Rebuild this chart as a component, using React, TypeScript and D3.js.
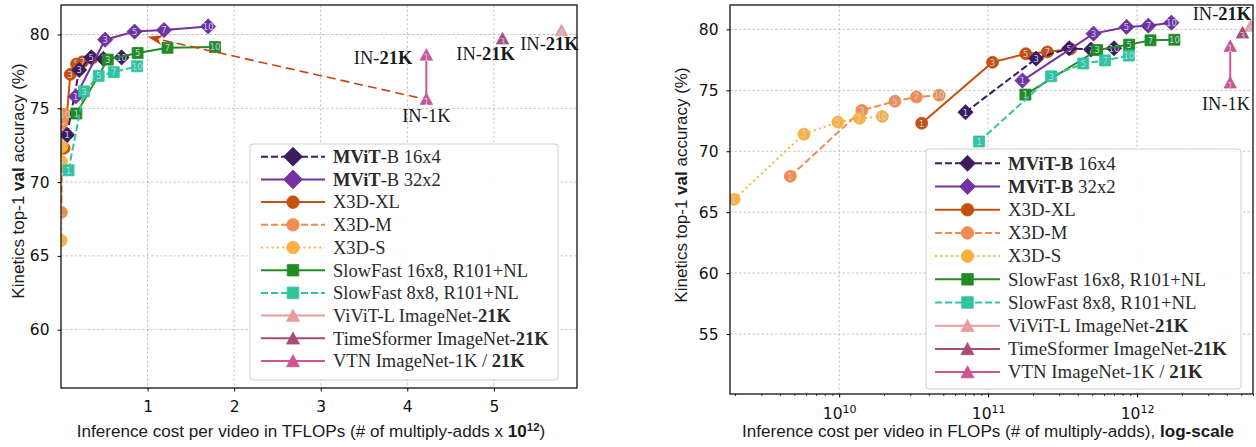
import React, { useEffect, useRef } from 'react';
import * as d3 from 'd3';

// number of views (clips) printed inside each marker
const VIEWS = ['1', '3', '5', '7', '10'];

// inference cost in TFLOPs (x 10^12 multiply-adds) and Kinetics top-1 val accuracy (%)
const mvit16x4Cost = [0.0705, 0.21, 0.35, 0.49, 0.7];
const mvit16x4Acc = [73.2, 77.6, 78.45, 78.35, 78.45];
const mvit32x2Cost = [0.17, 0.51, 0.85, 1.19, 1.7];
const mvit32x2Acc = [75.8, 79.65, 80.2, 80.3, 80.55];
const x3dXLCost = [0.0358, 0.107, 0.179, 0.25, 0.358];
const x3dXLAcc = [72.3, 77.3, 78.0, 78.15, 78.4];
const x3dMCost = [0.0047, 0.0142, 0.0237, 0.033, 0.047];
const x3dMAcc = [67.95, 73.35, 74.1, 74.45, 74.6];
const x3dSCost = [0.00197, 0.0058, 0.0098, 0.0137, 0.0195];
const x3dSAcc = [66.05, 71.4, 72.4, 72.7, 72.85];
const sf16x8Cost = [0.178, 0.54, 0.885, 1.23, 1.78];
const sf16x8Acc = [74.65, 78.3, 78.75, 79.1, 79.15];
const sf8x8Cost = [0.087, 0.265, 0.435, 0.61, 0.88];
const sf8x8Acc = [70.8, 76.15, 77.2, 77.45, 77.85];
const vivitCost = [5.78];
const vivitAcc = [80.25];
const vivitViews = ['4'];
const timesformerCost = [5.1];
const timesformerAcc = [79.7];
const timesformerViews = ['3'];
const vtnCost = [4.22, 4.22];
const vtnAcc = [75.6, 78.6];
const vtnViews = ['1', '1'];

// dashed arrow in the linear plot: from VTN IN-1K to MViT-B 32x2 level
const arrowTip = [1.0, 79.85];

const leftXTicks = [1, 2, 3, 4, 5];
const leftYTicks = [60, 65, 70, 75, 80];
const rightXTicks = [1e10, 1e11, 1e12];
const rightYTicks = [55, 60, 65, 70, 75, 80];

const legendLeft = [
  '**MViT**-B 16x4',
  '**MViT**-B 32x2',
  'X3D-XL',
  'X3D-M',
  'X3D-S',
  'SlowFast 16x8, R101+NL',
  'SlowFast 8x8, R101+NL',
  'ViViT-L ImageNet-**21K**',
  'TimeSformer ImageNet-**21K**',
  'VTN ImageNet-1K / **21K**',
];
const legendRight = legendLeft.map((s, i) => (i < 2 ? s.replace('**MViT**-B', '**MViT-B**') : s));

type Marker = 'diamond' | 'circle' | 'square' | 'triangle';
interface Series {
  cost: number[];
  acc: number[];
  views: string[];
  color: string;
  dash: string | null;
  marker: Marker;
}

// legend order
const SERIES: Series[] = [
  { cost: mvit16x4Cost, acc: mvit16x4Acc, views: VIEWS, color: '#3e1a5e', dash: '7,3', marker: 'diamond' },
  { cost: mvit32x2Cost, acc: mvit32x2Acc, views: VIEWS, color: '#7431a0', dash: null, marker: 'diamond' },
  { cost: x3dXLCost, acc: x3dXLAcc, views: VIEWS, color: '#c5500f', dash: null, marker: 'circle' },
  { cost: x3dMCost, acc: x3dMAcc, views: VIEWS, color: '#f08c52', dash: '7,3', marker: 'circle' },
  { cost: x3dSCost, acc: x3dSAcc, views: VIEWS, color: '#fbb040', dash: '2,3.3', marker: 'circle' },
  { cost: sf16x8Cost, acc: sf16x8Acc, views: VIEWS, color: '#238b23', dash: null, marker: 'square' },
  { cost: sf8x8Cost, acc: sf8x8Acc, views: VIEWS, color: '#30c49f', dash: '7,3', marker: 'square' },
  { cost: vivitCost, acc: vivitAcc, views: vivitViews, color: '#e89c9c', dash: null, marker: 'triangle' },
  { cost: timesformerCost, acc: timesformerAcc, views: timesformerViews, color: '#a84b7b', dash: null, marker: 'triangle' },
  { cost: vtnCost, acc: vtnAcc, views: vtnViews, color: '#cd5690', dash: null, marker: 'triangle' },
];
const DRAW_ORDER = [2, 3, 4, 0, 1, 5, 6, 7, 8, 9];

const SERIF = '"Liberation Serif", "Times New Roman", serif';
const SANS = '"Liberation Sans", Arial, sans-serif';
const TICK_FONT = '"DejaVu Sans", sans-serif';

const markerPath = (m: Marker, s = 1) => {
  if (m === 'diamond') {
    const r = 7.6 * s;
    return `M0,${-r}L${r},0L0,${r}L${-r},0Z`;
  }
  if (m === 'square') {
    const h = 5.5 * s;
    return `M${-h},${-h}H${h}V${h}H${-h}Z`;
  }
  if (m === 'triangle') {
    const w = 6.2 * s;
    return `M0,${-6.5 * s}L${w},${5 * s}L${-w},${5 * s}Z`;
  }
  return d3.symbol(d3.symbolCircle, Math.PI * 36 * s * s)()!;
};

// "a **b** c" -> tspans with bold parts
const richText = (sel: d3.Selection<SVGTextElement, unknown, null, undefined>, s: string) => {
  s.split('**').forEach((part, i) => {
    if (!part) return;
    sel.append('tspan').attr('font-weight', i % 2 ? 'bold' : null).text(part);
  });
};

interface Panel {
  id: string;
  x: d3.ScaleContinuousNumeric<number, number>;
  y: d3.ScaleLinear<number, number>;
  toX: (tflops: number) => number;
  legend: string[];
  legendBox: { x: number; y: number; w: number; h: number; row0: number; step: number; h0: number; h1: number; tx: number; size: number; dscale: number };
}

const App: React.FC = () => {
  const svgRef = useRef<SVGSVGElement>(null);

  useEffect(() => {
    if (!svgRef.current) return;
    const svg = d3.select(svgRef.current);
    svg.selectAll('*').remove();
    const defs = svg.append('defs');

    const drawPanel = (p: Panel) => {
      const { x, y } = p;
      const [x0, x1] = x.range();
      const [yb, yt] = y.range();
      const g = svg.append('g');

      defs.append('clipPath').attr('id', `clip-${p.id}`)
        .append('rect').attr('x', x0).attr('y', yt).attr('width', x1 - x0).attr('height', yb - yt);

      // grid
      const grid = g.append('g').attr('stroke', '#bdbdbd').attr('stroke-width', 0.9).attr('stroke-dasharray', '2.5,2');
      const xt = p.id === 'lin' ? leftXTicks : rightXTicks;
      const yticks = p.id === 'lin' ? leftYTicks : rightYTicks;
      xt.forEach(t => grid.append('line').attr('x1', x(t)).attr('x2', x(t)).attr('y1', yt).attr('y2', yb));
      yticks.forEach(t => grid.append('line').attr('x1', x0).attr('x2', x1).attr('y1', y(t)).attr('y2', y(t)));

      // series
      const plot = g.append('g').attr('clip-path', `url(#clip-${p.id})`);
      DRAW_ORDER.forEach(idx => {
        const s = SERIES[idx];
        const pts = s.cost.map((c, i) => [x(p.toX(c)), y(s.acc[i])] as [number, number]);
        if (pts.length > 1) {
          plot.append('path').attr('d', d3.line()(pts)).attr('fill', 'none')
            .attr('stroke', s.color).attr('stroke-width', 2).attr('stroke-dasharray', s.dash);
        }
        pts.forEach(([px, py], i) => {
          plot.append('path').attr('d', markerPath(s.marker)).attr('transform', `translate(${px},${py})`)
            .attr('fill', s.color).attr('stroke', s.color).attr('stroke-width', 0.8);
          plot.append('text').attr('x', px).attr('y', py + (s.marker === 'triangle' ? 2.6 : 0.3))
            .attr('text-anchor', 'middle').attr('dominant-baseline', 'central')
            .attr('font-family', TICK_FONT).attr('font-size', 8.5).attr('fill', '#b6d2f0')
            .text(s.views[i]);
        });
      });

      // spines
      g.append('rect').attr('x', x0).attr('y', yt).attr('width', x1 - x0).attr('height', yb - yt)
        .attr('fill', 'none').attr('stroke', '#111').attr('stroke-width', 1.3);

      // y axis
      const yAxis = g.append('g').attr('transform', `translate(${x0},0)`)
        .call(d3.axisLeft(y).tickValues(yticks).tickSize(3.5).tickPadding(8).tickFormat(d3.format('d')));
      yAxis.select('.domain').remove();
      yAxis.selectAll('text').attr('font-family', TICK_FONT).attr('font-size', 15.5).attr('fill', '#111');

      // x axis
      if (p.id === 'lin') {
        const xAxis = g.append('g').attr('transform', `translate(0,${yb})`)
          .call(d3.axisBottom(x).tickValues(leftXTicks).tickSize(3.5).tickPadding(9).tickFormat(d3.format('d')));
        xAxis.select('.domain').remove();
        xAxis.selectAll('text').attr('font-family', TICK_FONT).attr('font-size', 15.5).attr('fill', '#111');
      } else {
        const [d0, d1] = x.domain();
        const minor: number[] = [];
        for (let e = Math.floor(Math.log10(d0)); e <= Math.ceil(Math.log10(d1)); e++) {
          for (let m = 2; m <= 9; m++) {
            const v = m * Math.pow(10, e);
            if (v >= d0 && v <= d1) minor.push(v);
          }
        }
        const mAxis = g.append('g').attr('transform', `translate(0,${yb})`)
          .call(d3.axisBottom(x).tickValues(minor).tickSize(2).tickFormat(() => ''));
        mAxis.select('.domain').remove();
        mAxis.selectAll('line').attr('stroke-width', 0.8);
        const xAxis = g.append('g').attr('transform', `translate(0,${yb})`)
          .call(d3.axisBottom(x).tickValues(rightXTicks).tickSize(3.5).tickPadding(10).tickFormat(() => ''));
        xAxis.select('.domain').remove();
        xAxis.selectAll<SVGTextElement, number>('text').each(function (d) {
          const t = d3.select(this).attr('font-family', TICK_FONT).attr('font-size', 15.5).attr('fill', '#111');
          t.append('tspan').text('10');
          t.append('tspan').attr('font-size', 11).attr('dy', '-0.5em').text(String(Math.round(Math.log10(d))));
        });
      }

      // legend
      const L = p.legendBox;
      const lg = g.append('g');
      lg.append('rect').attr('x', L.x).attr('y', L.y).attr('width', L.w).attr('height', L.h).attr('rx', 3)
        .attr('fill', 'white').attr('fill-opacity', 0.92).attr('stroke', '#cfcfcf').attr('stroke-width', 1);
      SERIES.forEach((s, i) => {
        const ry = L.row0 + i * L.step;
        lg.append('line').attr('x1', L.h0).attr('x2', L.h1).attr('y1', ry).attr('y2', ry)
          .attr('stroke', s.color).attr('stroke-width', 2).attr('stroke-dasharray', s.dash);
        const sc = s.marker === 'diamond' ? L.dscale : 1.05;
        lg.append('path').attr('d', markerPath(s.marker, sc))
          .attr('transform', `translate(${(L.h0 + L.h1) / 2},${ry + (s.marker === 'triangle' ? 0.5 : 0)})`)
          .attr('fill', s.color).attr('stroke', s.color).attr('stroke-width', 0.8);
        const t = lg.append('text').attr('x', L.tx).attr('y', ry + 6.3)
          .attr('font-family', SERIF).attr('font-size', L.size).attr('fill', '#2a2a2a');
        richText(t, p.legend[i]);
      });

      return g;
    };

    // ---- left: linear TFLOPs ----
    const xLin = d3.scaleLinear().domain([0, 5.96]).range([61, 577]);
    const yLin = d3.scaleLinear().domain([56.05, 82]).range([388, 5]);
    const gl = drawPanel({
      id: 'lin', x: xLin, y: yLin, toX: c => c, legend: legendLeft,
      legendBox: { x: 250, y: 144, w: 308, h: 236, row0: 156.7, step: 22.7, h0: 261, h1: 325, tx: 333, size: 18.5, dscale: 1.25 },
    });

    // dashed arrow from VTN IN-1K
    const from: [number, number] = [xLin(vtnCost[0]), yLin(vtnAcc[0])];
    const to: [number, number] = [xLin(arrowTip[0]), yLin(arrowTip[1])];
    const len = Math.hypot(from[0] - to[0], from[1] - to[1]);
    const ux = (from[0] - to[0]) / len;
    const uy = (from[1] - to[1]) / len;
    const tail: [number, number] = [from[0] - ux * 9, from[1] - uy * 9];
    const neck: [number, number] = [to[0] + ux * 12, to[1] + uy * 12];
    gl.append('path').attr('d', d3.line()([tail, neck])).attr('fill', 'none')
      .attr('stroke', '#c8440e').attr('stroke-width', 1.6).attr('stroke-dasharray', '9,5');
    const head: [number, number][] = [
      to,
      [to[0] + ux * 15 - uy * 5, to[1] + uy * 15 + ux * 5],
      [to[0] + ux * 11, to[1] + uy * 11],
      [to[0] + ux * 15 + uy * 5, to[1] + uy * 15 - ux * 5],
    ];
    gl.append('path').attr('d', d3.line()(head) + 'Z').attr('fill', '#c8440e');

    const noteL = gl.append('g').attr('font-family', SERIF).attr('font-size', 18.5).attr('fill', '#1a1a1a');
    const annotate = (g: d3.Selection<SVGGElement, unknown, null, undefined>, px: number, py: number, anchor: string, s: string) => {
      const t = g.append('text').attr('x', px).attr('y', py).attr('text-anchor', anchor);
      richText(t as any, s);
    };
    annotate(noteL, xLin(vtnCost[1]) - 14, yLin(vtnAcc[1]) + 9, 'end', 'IN-**21K**');
    annotate(noteL, xLin(vtnCost[0]), yLin(vtnAcc[0]) + 22.5, 'middle', 'IN-1K');
    annotate(noteL, xLin(timesformerCost[0]) - 17, yLin(timesformerAcc[0]) + 21, 'middle', 'IN-**21K**');
    annotate(noteL, xLin(vivitCost[0]) - 12, yLin(vivitAcc[0]) + 19, 'middle', 'IN-**21K**');

    // axis labels (left)
    const lx = gl.append('text').attr('transform', 'translate(24,181) rotate(-90)').attr('text-anchor', 'middle')
      .attr('font-family', SANS).attr('font-size', 17).attr('fill', '#1a1a1a');
    richText(lx as any, 'Kinetics top-1 **val** accuracy (%)');
    const bx = gl.append('text').attr('x', 311).attr('y', 437).attr('text-anchor', 'middle')
      .attr('font-family', SANS).attr('font-size', 17.1).attr('fill', '#1a1a1a');
    bx.append('tspan').text('Inference cost per video in TFLOPs (# of multiply-adds x ');
    bx.append('tspan').attr('font-weight', 'bold').text('10');
    bx.append('tspan').attr('font-weight', 'bold').attr('font-size', 11.5).attr('dy', '-0.55em').text('12');
    bx.append('tspan').attr('dy', '0.35em').text(')');

    // ---- right: log FLOPs ----
    const xLog = d3.scaleLog().domain([1.85e9, 6.0e12]).range([730, 1253]);
    const yLog = d3.scaleLinear().domain([50.08, 82]).range([394, 5]);
    const gr = drawPanel({
      id: 'log', x: xLog, y: yLog, toX: c => c * 1e12, legend: legendRight,
      legendBox: { x: 926, y: 149, w: 315, h: 240, row0: 163.3, step: 23.2, h0: 935, h1: 1000, tx: 1008, size: 18.8, dscale: 1.05 },
    });
    const noteR = gr.append('g').attr('font-family', SERIF).attr('font-size', 18.5).attr('fill', '#1a1a1a');
    annotate(noteR, xLog(vtnCost[1] * 1e12) + 21, yLog(vtnAcc[1]) - 26.5, 'end', 'IN-**21K**');
    annotate(noteR, xLog(vtnCost[0] * 1e12) + 20, yLog(vtnAcc[0]) + 27, 'end', 'IN-1K');

    const ry = gr.append('text').attr('transform', 'translate(687,185) rotate(-90)').attr('text-anchor', 'middle')
      .attr('font-family', SANS).attr('font-size', 17).attr('fill', '#1a1a1a');
    richText(ry as any, 'Kinetics top-1 **val** accuracy (%)');
    const rx = gr.append('text').attr('x', 988).attr('y', 437).attr('text-anchor', 'middle')
      .attr('font-family', SANS).attr('font-size', 17.1).attr('fill', '#1a1a1a');
    richText(rx as any, 'Inference cost per video in FLOPs (# of multiply-adds), **log-scale**');
  }, []);

  return (
    <svg ref={svgRef} width={1256} height={447}
      style={{ position: 'absolute', left: 0, top: 0, background: '#fff' }} />
  );
};

export default App;
